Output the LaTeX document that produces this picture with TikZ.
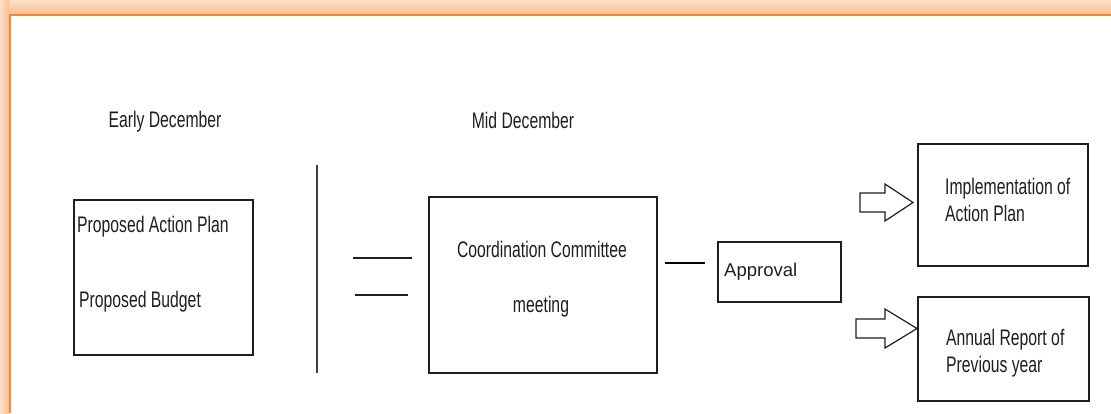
\documentclass[tikz,border=0pt]{standalone}
\usepackage{fontspec}
\setmainfont{Liberation Sans}[FakeStretch=0.7]
\newfontfamily\approvalfont{Liberation Sans}
\usepackage{tikz}
\definecolor{framecol}{RGB}{244,135,60}
\definecolor{glowlight}{RGB}{253,224,202}
\definecolor{glowdark}{RGB}{251,190,142}
\definecolor{inkcol}{RGB}{30,30,30}

\begin{document}
\begin{tikzpicture}[x=1pt, y=-1pt, box/.style={rectangle, draw=inkcol, line width=1.4pt, inner sep=0pt}, label/.style={inner sep=0pt, text=inkcol, font=\fontsize{22.5}{27}\selectfont}, hollowarrow/.style={draw=inkcol, line width=1.2pt, line join=miter}]

    \useasboundingbox (0,0) rectangle (1111,413);

    %Frame
    \shade[top color=glowlight, bottom color=glowdark] (0,0) rectangle (1111,14);
    \shade[left color=glowlight, right color=glowdark] (0,0) rectangle (9,413);
    \draw[framecol, line width=2pt] (10,413) -- (10,15) -- (1111,15);

    %Nodes
    \node[label](early) at (165,122){Early December};
    \node[label](mid) at (523,120){Mid December};
    \node[box, minimum width=179, minimum height=155](proposals) at (163.5,277.5){};
    \node[label, anchor=west](plan) at (77,227){Proposed Action Plan};
    \node[label, anchor=west](budget) at (79,302){Proposed Budget};
    \node[box, minimum width=228, minimum height=176](committee) at (543,285){};
    \node[label](coordination) at (542,249){Coordination Committee};
    \node[label](meeting) at (541,307){meeting};
    \node[box, minimum width=123, minimum height=60](approval) at (779.5,272){};
    \node[label, anchor=west, font=\approvalfont\fontsize{18.5}{22}\selectfont](approval_text) at (724,272){Approval};
    \node[box, minimum width=170, minimum height=122](implementation) at (1003,205){};
    \node[label, anchor=west, align=left](implementation_text) at (945,199.5){Implementation of\\Action Plan};
    \node[box, minimum width=171, minimum height=104](report) at (1003.5,349){};
    \node[label, anchor=west, align=left](report_text) at (946,353.5){Annual Report of\\Previous year};
    \coordinate (divider_top) at (317,165);
    \coordinate (divider_bottom) at (317,373);
    \coordinate (dash_a_start) at (353,258);
    \coordinate (dash_a_end) at (412,258);
    \coordinate (dash_b_start) at (355,295);
    \coordinate (dash_b_end) at (408,295);
    \coordinate (link_start) at (665,263);
    \coordinate (link_end) at (705,263);

    %Lines
    \draw[inkcol!85, line width=1.6pt] (divider_top) -- (divider_bottom);
    \draw[inkcol, line width=1.1pt] (dash_a_start) -- (dash_a_end);
    \draw[inkcol, line width=1.1pt] (dash_b_start) -- (dash_b_end);
    \draw[black, line width=2.6pt] (link_start) -- (link_end);

    %Arrows
    \draw[hollowarrow] (860,193) -- (885,193) -- (885,184) -- (913,202.5) -- (885,221) -- (885,212) -- (860,212) -- cycle;
    \draw[hollowarrow] (856,319) -- (885,319) -- (885,309) -- (917,328.5) -- (885,348) -- (885,338) -- (856,338) -- cycle;

\end{tikzpicture}
\end{document}
